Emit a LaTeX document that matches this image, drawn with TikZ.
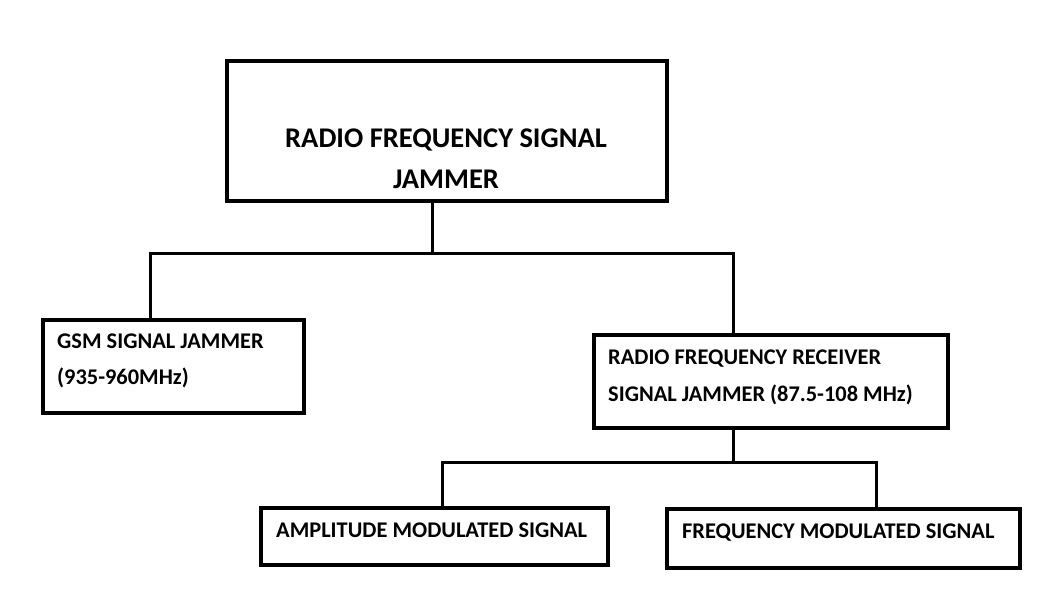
\documentclass[tikz,border=0pt]{standalone}
\usepackage{fontspec}
\setmainfont{Carlito}
\begin{document}
\begin{tikzpicture}[x=1pt,y=-1pt,
  box/.style={draw,line width=4pt,line join=miter,inner sep=0pt,anchor=north west},
  link/.style={line width=3pt,line join=miter},
  lbl/.style={inner sep=0pt,anchor=base west,font=\bfseries\fontsize{22.4}{22.4}\selectfont},
  big/.style={inner sep=0pt,anchor=base,font=\bfseries\fontsize{28.5}{28.5}\selectfont}]
\useasboundingbox (0,0) rectangle (1049,613);
% boxes
\node[box,minimum width=440pt,minimum height=140pt] (top) at (225,59) {};
\node[box,minimum width=261pt,minimum height=93pt] (gsm) at (41,318) {};
\node[box,minimum width=354pt,minimum height=93pt] (rf) at (592,333) {};
\node[box,minimum width=347pt,minimum height=57pt] (am) at (259,506) {};
\node[box,minimum width=353pt,minimum height=59pt] (fm) at (665,507) {};
% texts
\node[big] (t1) at (446,147) {RADIO FREQUENCY SIGNAL};
\node[big] (t2) at (446,188.5) {JAMMER};
\node[lbl] (g1) at (57,348) {GSM SIGNAL JAMMER};
\node[lbl] (g2) at (57,384) {(935-960MHz)};
\node[lbl] (r1) at (608,364.5) {RADIO FREQUENCY RECEIVER};
\node[lbl] (r2) at (608,401.5) {SIGNAL JAMMER (87.5-108 MHz)};
\node[lbl] (a1) at (276,537) {AMPLITUDE MODULATED SIGNAL};
\node[lbl] (f1) at (682,538) {FREQUENCY MODULATED SIGNAL};
% junctions
\coordinate (ja) at (432,253);
\coordinate (jl) at (150,253);
\coordinate (jr) at (733,253);
\coordinate (kb) at (733,462);
\coordinate (kl) at (442,462);
\coordinate (kr) at (876,462);
% connectors
\draw[link] (top.south -| ja) -- (ja);
\draw[link] (gsm.north -| jl) -- (jl) -- (jr) -- (rf.north -| jr);
\draw[link] (rf.south -| kb) -- (kb);
\draw[link] (am.north -| kl) -- (kl) -- (kr) -- (fm.north -| kr);
\end{tikzpicture}
\end{document}
